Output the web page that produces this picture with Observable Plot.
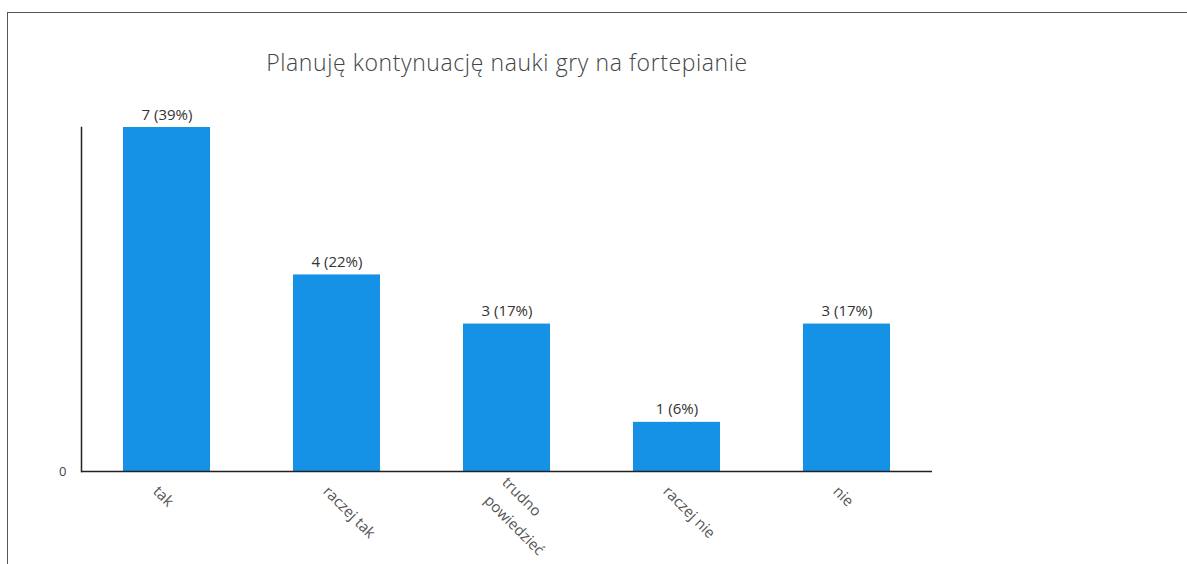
<!DOCTYPE html>
<html>
<head>
<meta charset="utf-8">
<script src="https://cdn.jsdelivr.net/npm/d3@7"></script>
<script src="https://cdn.jsdelivr.net/npm/@observablehq/plot@0.6"></script>
<style>
  html, body { margin: 0; padding: 0; background: #fff; }
  body { width: 1187px; height: 564px; overflow: hidden; position: relative; font-family: "Open Sans", sans-serif; }
  #title { box-sizing: border-box; height: 100px; width: 1014px; padding-top: 48px; text-align: center;
           font-size: 23px; line-height: 28px; color: #444; font-weight: 300; letter-spacing: 0.6px; }
  #frame { position: absolute; left: 7px; top: 12px; width: 1180px; height: 552px;
           border-top: 1.5px solid #555; border-left: 1.5px solid #555; pointer-events: none; box-sizing: border-box; }
  #chart svg { display: block; }
</style>
</head>
<body>
<div id="title">Planuję kontynuację nauki gry na fortepianie</div>
<div id="chart"></div>
<div id="frame"></div>
<script>
const categories = ["tak", "raczej tak", "trudno powiedzieć", "raczej nie", "nie"];
const counts = [7, 4, 3, 1, 3];
const percents = [39, 22, 17, 6, 17];
const tickLabels = ["tak", "raczej tak", "trudno\npowiedzieć", "raczej nie", "nie"];
const yTicks = [0];

const data = categories.map((c, i) => ({cat: c, count: counts[i], pct: percents[i], label: tickLabels[i]}));
const labelOf = new Map(data.map(d => [d.cat, d.label]));

const chart = Plot.plot({
  width: 1187,
  height: 464,
  marginLeft: 81,
  marginRight: 255,
  marginTop: 27,
  marginBottom: 93,
  style: {fontFamily: "'Open Sans', sans-serif", background: "transparent"},
  x: {domain: categories, paddingInner: 0.49, paddingOuter: 0.245},
  y: {domain: [0, 7]},
  marks: [
    Plot.barY(data, {x: "cat", y: "count", fill: "#1592e6"}),
    Plot.ruleY([0], {stroke: "#222", strokeWidth: 1.5}),
    Plot.frame({anchor: "left", stroke: "#222", strokeWidth: 1.5}),
    Plot.text(data, {x: "cat", y: "count", text: d => `${d.count} (${d.pct}%)`, dy: -8, lineAnchor: "bottom", fontSize: 15, fill: "#333"}),
    Plot.axisY({ticks: yTicks, tickSize: 0, tickPadding: 15, fontSize: 13, fill: "#444", label: null, tickFormat: d => String(d)}),
    Plot.axisX({tickRotate: 45, tickSize: 0, tickPadding: 15, dx: -9, fontSize: 15, fill: "#555", lineHeight: 1.7, label: null, tickFormat: d => labelOf.get(d)})
  ]
});
document.getElementById("chart").appendChild(chart);
</script>
</body>
</html>
